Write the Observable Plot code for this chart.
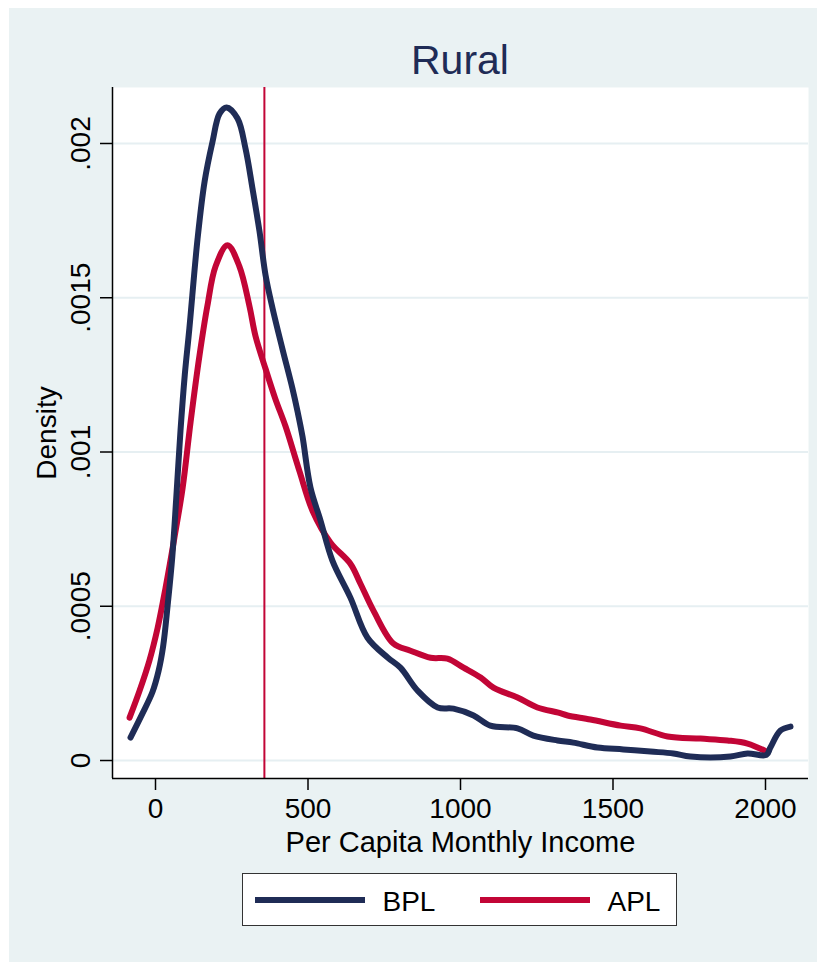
<!DOCTYPE html>
<html><head><meta charset="utf-8">
<script src="https://cdn.jsdelivr.net/npm/d3@7"></script>
<script src="https://cdn.jsdelivr.net/npm/@observablehq/plot@0.6"></script>
<style>
html,body{margin:0;padding:0;background:#fff;}
body{width:817px;height:962px;position:relative;overflow:hidden;font-family:"Liberation Sans",Arial,sans-serif;}
#panel{position:absolute;left:9px;top:8px;width:808px;height:954px;background:#eaf2f3;}
#title{position:absolute;left:112px;width:696px;top:40px;text-align:center;font-size:41px;line-height:41px;color:#1f2c56;}
#chart{position:absolute;left:0;top:80px;}
#legend{position:absolute;left:242px;top:873px;width:433px;height:51px;background:#fff;border:1.5px solid #333;}
.sw{position:absolute;height:6px;top:23px;width:110px;}
.lt{position:absolute;font-size:28px;line-height:28px;top:14px;color:#000;}
</style>
</head><body>
<div id="panel"></div>
<div id="title">Rural</div>
<div id="chart"></div>
<div id="legend"></div>
<script>
const seriesNames = ["BPL", "APL"];
const seriesColors = ["#1f2c56", "#c20536"];
const xTicks = [0, 500, 1000, 1500, 2000];
const yTicks = [0, 0.0005, 0.001, 0.0015, 0.002];
const yTickLabels = ["0", ".0005", ".001", ".0015", ".002"];
const xDomain = [-141, 2141];
const yDomain = [-0.0000583, 0.0021815];
const povertyLine = 357;

const bplX = [-82,-43,-10,10,25,40,55,68,82,96,111,138,161,187,210,233,269,295,318,341,361,384,416,449,466,482,508,541,580,639,695,761,803,859,925,977,1043,1098,1187,1239,1318,1370,1449,1534,1623,1698,1754,1885,1941,2003,2016,2049,2082];
const bplY = [0.0000745,0.000152,0.000222,0.00029,0.00037,0.000505,0.00066,0.00085,0.00107,0.00125,0.0014,0.001692,0.001877,0.002006,0.002097,0.002117,0.002081,0.001984,0.001854,0.001715,0.001572,0.001465,0.001335,0.001206,0.00113,0.00105,0.000885,0.000778,0.000648,0.000528,0.000398,0.000334,0.000301,0.000227,0.000172,0.000168,0.000146,0.000113,0.000104,0.000081,0.000065,0.000058,0.000042,0.000036,0.000029,0.000023,0.000013,0.000013,0.000023,0.000018,0.000042,0.000097,0.00011];

const aplX = [-85,-52,-20,7,33,62,89,115,144,170,197,236,275,308,328,361,393,426,472,515,574,639,672,715,780,836,902,957,1010,1066,1108,1187,1252,1321,1351,1426,1525,1590,1679,1787,1875,1941,2003];
const aplY = [0.000139,0.000227,0.000324,0.00043,0.00056,0.000722,0.000884,0.001097,0.001311,0.001473,0.001602,0.00167,0.001602,0.001473,0.001375,0.001269,0.001172,0.001084,0.000938,0.000809,0.000706,0.000638,0.000573,0.000485,0.000379,0.000356,0.000333,0.00033,0.000301,0.000269,0.000236,0.000204,0.000172,0.000155,0.000146,0.000133,0.000113,0.000104,0.000078,0.000071,0.000065,0.000055,0.000029];

const bpl = bplX.map((x, i) => ({x, y: bplY[i]}));
const apl = aplX.map((x, i) => ({x, y: aplY[i]}));
const font = "'Liberation Sans', Arial, sans-serif";

const chart = Plot.plot({
  width: 817, height: 788,
  marginLeft: 112, marginRight: 9, marginTop: 7, marginBottom: 90,
  x: {domain: xDomain},
  y: {domain: yDomain},
  style: {background: "transparent", fontFamily: font, color: "black", overflow: "visible"},
  marks: [
    Plot.frame({fill: "white", stroke: "none"}),
    Plot.gridY(yTicks, {stroke: "#e6eff2", strokeOpacity: 1, strokeWidth: 2}),
    Plot.ruleX([povertyLine], {stroke: seriesColors[1], strokeWidth: 2}),
    Plot.line(apl, {x: "x", y: "y", stroke: seriesColors[1], strokeWidth: 6, curve: "catmull-rom", strokeLinecap: "round", strokeLinejoin: "round"}),
    Plot.line(bpl, {x: "x", y: "y", stroke: seriesColors[0], strokeWidth: 6, curve: "catmull-rom", strokeLinecap: "round", strokeLinejoin: "round"}),
    Plot.ruleX([xDomain[0]], {stroke: "black", strokeWidth: 1.5}),
    Plot.ruleY([yDomain[0]], {stroke: "black", strokeWidth: 1.5}),
    Plot.axisX(xTicks, {tickSize: 12, tickPadding: 8, fontSize: 28, tickFormat: d => String(d), label: null, stroke: "black", strokeWidth: 1.5, fill: "black"}),
    Plot.axisY(yTicks, {tickSize: 12, tickFormat: () => "", label: null, stroke: "black", strokeWidth: 1.5}),
    Plot.text(yTicks, {x: () => xDomain[0], y: d => d, text: (d, i) => yTickLabels[i], rotate: -90, dx: -23, textAnchor: "middle", lineAnchor: "bottom", fontSize: 28, fill: "black"}),
    Plot.text(["Density"], {x: () => xDomain[0], y: () => (yDomain[0] + yDomain[1]) / 2, text: d => d, rotate: -90, dx: -57, textAnchor: "middle", lineAnchor: "bottom", fontSize: 28, fill: "black"}),
    Plot.text(["Per Capita Monthly Income"], {x: () => (xDomain[0] + xDomain[1]) / 2, y: () => yDomain[0], text: d => d, dy: 73, textAnchor: "middle", lineAnchor: "bottom", fontSize: 29, fill: "black"})
  ]
});
document.getElementById("chart").appendChild(chart);

const lg = document.getElementById("legend");
const swX = [11.5, 236.5], txX = [139.5, 364.5];
seriesNames.forEach((n, i) => {
  const s = document.createElement("div");
  s.className = "sw"; s.style.left = swX[i] + "px"; s.style.background = seriesColors[i];
  lg.appendChild(s);
  const t = document.createElement("div");
  t.className = "lt"; t.style.left = txX[i] + "px"; t.textContent = n;
  lg.appendChild(t);
});
</script>
</body></html>
